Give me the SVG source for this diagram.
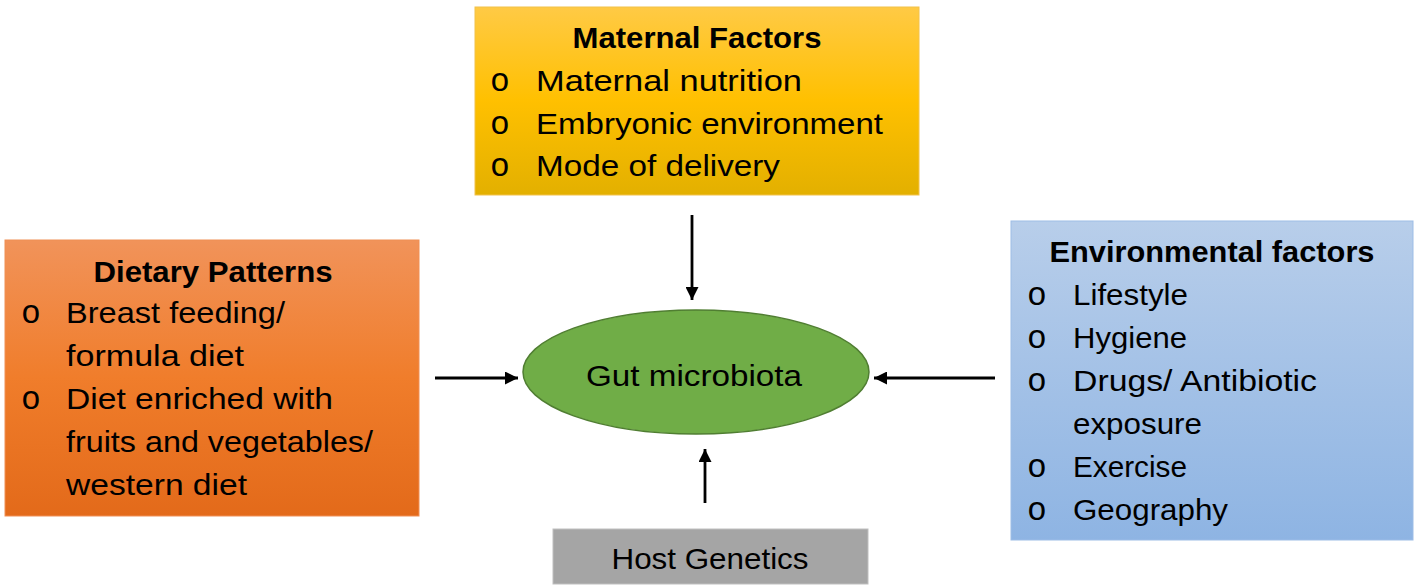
<svg xmlns="http://www.w3.org/2000/svg" width="1417" height="586" viewBox="0 0 1417 586">
<style>
  text { font-family: "Liberation Sans", Arial, sans-serif; fill: #000; }
  .t { font-size: 30px; font-weight: bold; text-anchor: middle; }
  .i { font-size: 30px; }
  .b { font-family: "Liberation Mono", "Courier New", monospace; font-size: 33px; text-anchor: middle; }
  .c { font-size: 30px; text-anchor: middle; }
  .conn { stroke: #000; stroke-width: 2.8; fill: none; marker-end: url(#ah); }
</style>
<defs>
  <linearGradient id="gY" x1="0" y1="0" x2="0" y2="1">
    <stop offset="0" stop-color="#FFCA45"/>
    <stop offset="0.5" stop-color="#FFC000"/>
    <stop offset="1" stop-color="#E3B000"/>
  </linearGradient>
  <linearGradient id="gO" x1="0" y1="0" x2="0" y2="1">
    <stop offset="0" stop-color="#F1935A"/>
    <stop offset="0.5" stop-color="#F07D2B"/>
    <stop offset="1" stop-color="#E36A1A"/>
  </linearGradient>
  <linearGradient id="gB" x1="0" y1="0" x2="0" y2="1">
    <stop offset="0" stop-color="#B8CEEA"/>
    <stop offset="1" stop-color="#8EB4E3"/>
  </linearGradient>
  <marker id="ah" viewBox="0 0 13 13" refX="13" refY="6.5" markerWidth="13" markerHeight="13" markerUnits="userSpaceOnUse" orient="auto">
    <path d="M0,0 L13,6.5 L0,13 Z" fill="#000"/>
  </marker>
</defs>
<rect width="1417" height="586" fill="#fff"/>

<g id="connectors">
  <line class="conn" x1="692" y1="215" x2="692" y2="300"/>
  <line class="conn" x1="435" y1="378" x2="518" y2="378"/>
  <line class="conn" x1="995" y1="378" x2="874" y2="378"/>
  <line class="conn" x1="705" y1="503" x2="705" y2="449"/>
</g>

<g id="maternal">
  <rect x="475" y="7" width="444" height="188" fill="url(#gY)" stroke="#F2C24A" stroke-width="1"/>
  <text class="t" x="697" y="48" textLength="249" lengthAdjust="spacingAndGlyphs">Maternal Factors</text>
  <text class="b" x="500" y="91">o</text>
  <text class="i" x="536" y="91" textLength="266" lengthAdjust="spacingAndGlyphs">Maternal nutrition</text>
  <text class="b" x="500" y="134">o</text>
  <text class="i" x="536" y="134" textLength="347" lengthAdjust="spacingAndGlyphs">Embryonic environment</text>
  <text class="b" x="500" y="176">o</text>
  <text class="i" x="536" y="176" textLength="244" lengthAdjust="spacingAndGlyphs">Mode of delivery</text>
</g>

<g id="dietary">
  <rect x="5" y="240" width="414" height="276" fill="url(#gO)" stroke="#F08F55" stroke-width="1"/>
  <text class="t" x="213" y="282" textLength="239" lengthAdjust="spacingAndGlyphs">Dietary Patterns</text>
  <text class="b" x="31" y="323">o</text>
  <text class="i" x="66" y="323" textLength="219" lengthAdjust="spacingAndGlyphs">Breast feeding/</text>
  <text class="i" x="66" y="366" textLength="178" lengthAdjust="spacingAndGlyphs">formula diet</text>
  <text class="b" x="31" y="409">o</text>
  <text class="i" x="66" y="409" textLength="267" lengthAdjust="spacingAndGlyphs">Diet enriched with</text>
  <text class="i" x="66" y="452" textLength="307" lengthAdjust="spacingAndGlyphs">fruits and vegetables/</text>
  <text class="i" x="66" y="495" textLength="181" lengthAdjust="spacingAndGlyphs">western diet</text>
</g>

<g id="environmental">
  <rect x="1011" y="221" width="402" height="319" fill="url(#gB)" stroke="#9DBDE6" stroke-width="1"/>
  <text class="t" x="1212" y="262" textLength="325" lengthAdjust="spacingAndGlyphs">Environmental factors</text>
  <text class="b" x="1037" y="305">o</text>
  <text class="i" x="1073" y="305" textLength="115" lengthAdjust="spacingAndGlyphs">Lifestyle</text>
  <text class="b" x="1037" y="348">o</text>
  <text class="i" x="1073" y="348" textLength="114" lengthAdjust="spacingAndGlyphs">Hygiene</text>
  <text class="b" x="1037" y="391">o</text>
  <text class="i" x="1073" y="391" textLength="244" lengthAdjust="spacingAndGlyphs">Drugs/ Antibiotic</text>
  <text class="i" x="1073" y="434" textLength="129" lengthAdjust="spacingAndGlyphs">exposure</text>
  <text class="b" x="1037" y="477">o</text>
  <text class="i" x="1073" y="477" textLength="114" lengthAdjust="spacingAndGlyphs">Exercise</text>
  <text class="b" x="1037" y="520">o</text>
  <text class="i" x="1073" y="520" textLength="155" lengthAdjust="spacingAndGlyphs">Geography</text>
</g>

<g id="gut">
  <ellipse cx="696" cy="372" rx="173" ry="62" fill="#70AD47" stroke="#507E32" stroke-width="1.5"/>
  <text class="c" x="694" y="386" textLength="216" lengthAdjust="spacingAndGlyphs">Gut microbiota</text>
</g>

<g id="host">
  <rect x="553" y="529" width="315" height="55" fill="#A5A5A5" stroke="#BFBFBF" stroke-width="1"/>
  <text class="c" x="710" y="569" textLength="197" lengthAdjust="spacingAndGlyphs">Host Genetics</text>
</g>
</svg>
